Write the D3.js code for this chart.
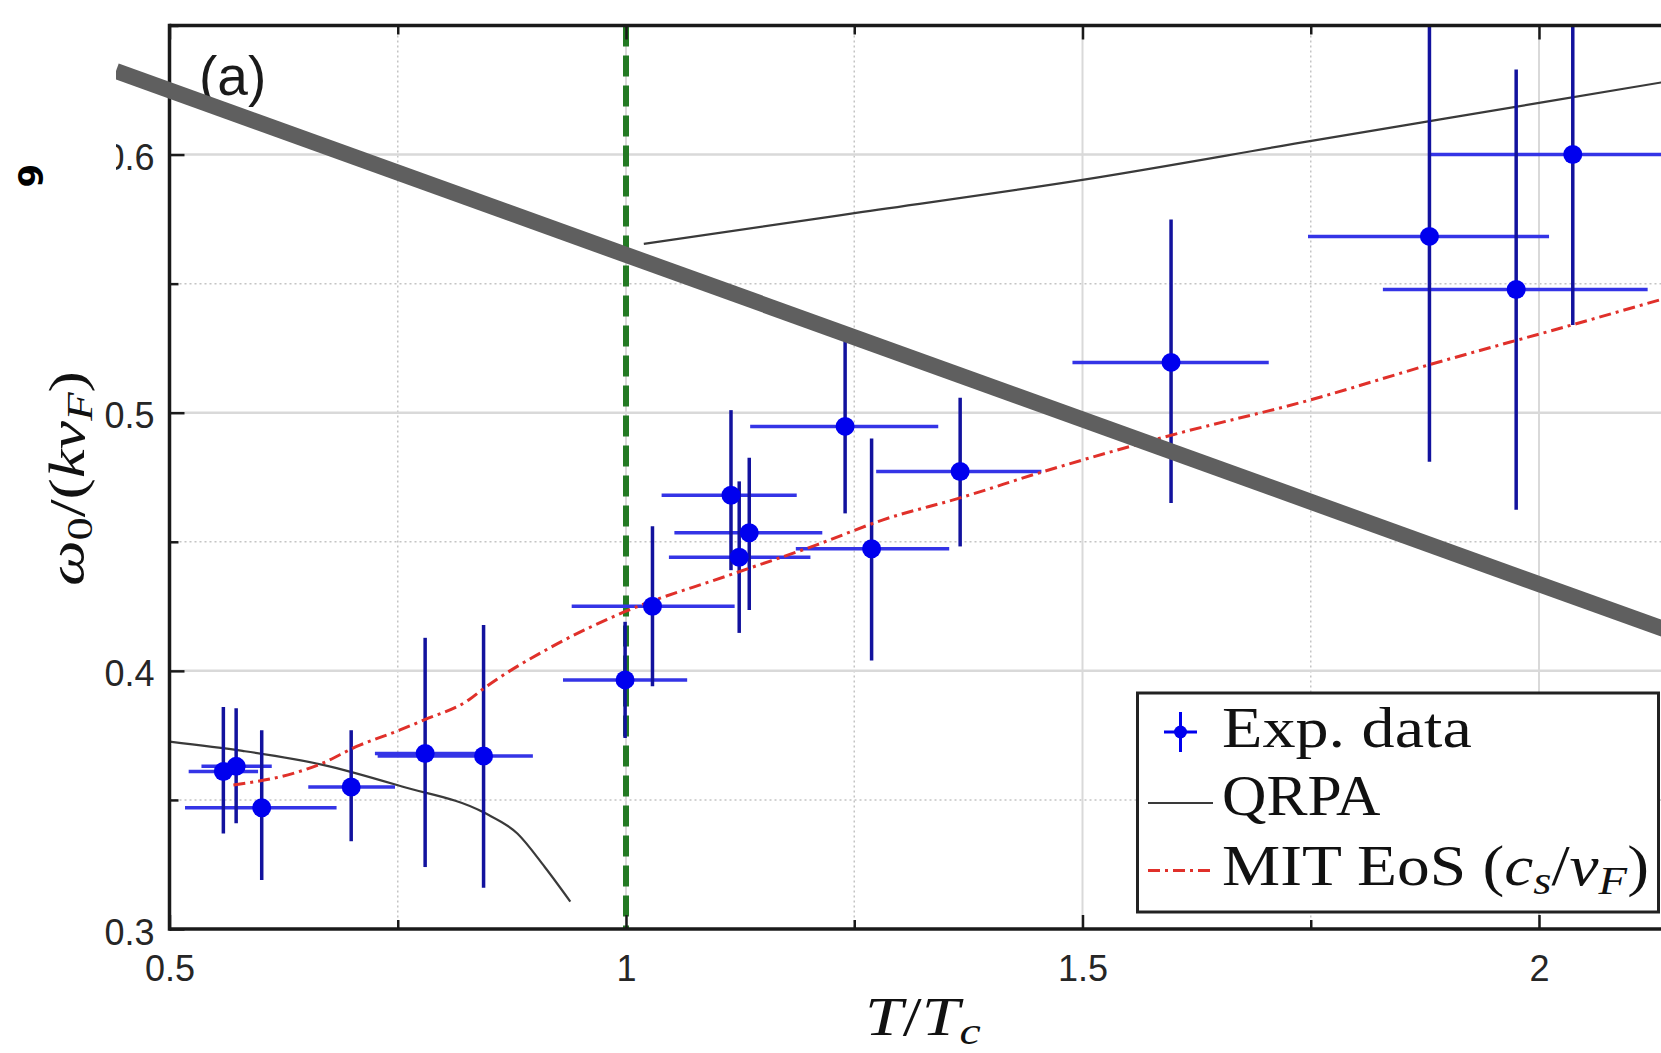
<!DOCTYPE html>
<html><head><meta charset="utf-8">
<script src="https://cdn.jsdelivr.net/npm/d3@7"></script>
<style>body{margin:0;background:#fff;} svg{display:block;}</style>
</head><body>
<svg id="chart" width="1661" height="1053"></svg>
<script>
// ---------- data ----------
const expX  = [0.559, 0.573, 0.601, 0.699, 0.780, 0.844, 0.999, 1.029, 1.115, 1.135, 1.124, 1.240, 1.269, 1.366, 1.597, 1.880, 1.975, 2.037];
const expY  = [0.361, 0.363, 0.347, 0.355, 0.368, 0.367, 0.3965, 0.425, 0.468, 0.4535, 0.444, 0.4947, 0.4473, 0.4772, 0.5195, 0.5683, 0.5477, 0.600];
const expXLo = [0.521, 0.535, 0.517, 0.652, 0.725, 0.728, 0.931, 0.9405, 1.039, 1.053, 1.047, 1.136, 1.186, 1.274, 1.489, 1.747, 1.829, 1.879];
const expXHi = [0.597, 0.612, 0.683, 0.747, 0.845, 0.898, 1.067, 1.119, 1.187, 1.215, 1.202, 1.342, 1.354, 1.455, 1.704, 2.011, 2.119, 2.25];
const expYLo = [0.337, 0.341, 0.319, 0.334, 0.324, 0.316, 0.374, 0.394, 0.439, 0.4236, 0.4147, 0.461, 0.404, 0.4482, 0.465, 0.481, 0.4624, 0.534];
const expYHi = [0.386, 0.3855, 0.377, 0.377, 0.4128, 0.4178, 0.419, 0.456, 0.501, 0.4826, 0.4734, 0.528, 0.490, 0.5058, 0.5748, 0.70, 0.633, 0.70];

const qrpaLowX = [0.5, 0.58, 0.668, 0.7546, 0.845, 0.881, 0.911, 0.939];
const qrpaLowY = [0.3726, 0.369, 0.3636, 0.3552, 0.345, 0.337, 0.324, 0.3106];
const qrpaHighX = [1.0195, 1.252, 1.5017, 1.754, 2.005, 2.14];
const qrpaHighY = [0.5654, 0.5774, 0.5903, 0.6055, 0.6203, 0.6283];

const mitX = [0.570, 0.6356, 0.666, 0.705, 0.7525, 0.779, 0.828, 0.842, 0.917, 0.9993, 1.109, 1.2088, 1.2815, 1.366, 1.4545, 1.592, 1.75, 1.880, 2.036, 2.14];
const mitY = [0.3558, 0.3603, 0.364, 0.3707, 0.3771, 0.381, 0.3888, 0.3926, 0.409, 0.423, 0.4366, 0.4488, 0.4585, 0.467, 0.4769, 0.4908, 0.505, 0.5186, 0.534, 0.5445];

const tcLine = [1.0];
const overlayX = [0.4414, 2.2];
const overlayY = [0.6324, 0.4081];

const xTickVals = [0.5, 1, 1.5, 2];
const xTickLabels = ["0.5", "1", "1.5", "2"];
const xMinorVals = [0.75, 1.25, 1.75];
const yTickVals = [0.3, 0.4, 0.5, 0.6];
const yTickLabels = ["0.3", "0.4", "0.5", "0.6"];
const yMinorVals = [0.35, 0.45, 0.55, 0.65];
const legendNames = ["Exp. data", "QRPA", "MIT EoS"];
const panelLabel = "(a)";

// ---------- layout ----------
const svg = d3.select("#chart");
const L = 169.5, T = 25.5, B = 929;
const x = d3.scaleLinear().domain([0.5, 2.2]).range([L, L + 1.7 * 913]);
const y = d3.scaleLinear().domain([0.3, 0.65]).range([B, T]);
const R = 1661;

svg.append("rect").attr("width", 1661).attr("height", 1053).attr("fill", "#fff");

svg.append("defs").append("clipPath").attr("id", "plotclip")
  .append("rect").attr("x", L).attr("y", T).attr("width", R - L).attr("height", B - T);

const grid = svg.append("g");
grid.selectAll(".gxm").data(xMinorVals).join("line")
  .attr("x1", d => x(d)).attr("x2", d => x(d)).attr("y1", T).attr("y2", B)
  .attr("stroke", "#c4c4c4").attr("stroke-width", 1.5).attr("stroke-dasharray", "2,3");
grid.selectAll(".gym").data(yMinorVals.filter(v => v < 0.65)).join("line")
  .attr("x1", L).attr("x2", R).attr("y1", d => y(d)).attr("y2", d => y(d))
  .attr("stroke", "#c4c4c4").attr("stroke-width", 1.5).attr("stroke-dasharray", "2,3");
grid.selectAll(".gx").data(xTickVals.slice(1)).join("line")
  .attr("x1", d => x(d)).attr("x2", d => x(d)).attr("y1", T).attr("y2", B)
  .attr("stroke", "#d9d9d9").attr("stroke-width", 2);
grid.selectAll(".gy").data(yTickVals.slice(1)).join("line")
  .attr("x1", L).attr("x2", R).attr("y1", d => y(d)).attr("y2", d => y(d))
  .attr("stroke", "#d9d9d9").attr("stroke-width", 2.5);

const plot = svg.append("g").attr("clip-path", "url(#plotclip)");

plot.selectAll(".tc").data(tcLine).join("line")
  .attr("x1", d => x(d)).attr("x2", d => x(d)).attr("y1", T).attr("y2", B)
  .attr("stroke", "#237a23").attr("stroke-width", 6).attr("stroke-dasharray", "21,9");

const lineGen = d3.line().x(d => x(d[0])).y(d => y(d[1])).curve(d3.curveMonotoneX);
plot.append("path").datum(qrpaLowX.map((v, i) => [v, qrpaLowY[i]]))
  .attr("d", lineGen).attr("fill", "none").attr("stroke", "#3a3a3a").attr("stroke-width", 2.2);
plot.append("path").datum(qrpaHighX.map((v, i) => [v, qrpaHighY[i]]))
  .attr("d", lineGen).attr("fill", "none").attr("stroke", "#3a3a3a").attr("stroke-width", 2.2);

const pts = expX.map((v, i) => ({x: v, y: expY[i], xl: expXLo[i], xh: expXHi[i], yl: expYLo[i], yh: expYHi[i]}));
plot.selectAll(".eh").data(pts).join("line")
  .attr("x1", d => x(d.xl)).attr("x2", d => x(d.xh)).attr("y1", d => y(d.y)).attr("y2", d => y(d.y))
  .attr("stroke", "#3434e6").attr("stroke-width", 3.5);
plot.selectAll(".ev").data(pts).join("line")
  .attr("x1", d => x(d.x)).attr("x2", d => x(d.x)).attr("y1", d => y(d.yl)).attr("y2", d => y(d.yh))
  .attr("stroke", "#12129e").attr("stroke-width", 3.5);

plot.append("path").datum(mitX.map((v, i) => [v, mitY[i]]))
  .attr("d", lineGen).attr("fill", "none").attr("stroke", "#e0302a").attr("stroke-width", 3)
  .attr("stroke-dasharray", "12,5,3,5");

plot.selectAll(".dot").data(pts).join("circle")
  .attr("cx", d => x(d.x)).attr("cy", d => y(d.y)).attr("r", 9.5).attr("fill", "#0000ee");

// ---------- axes ----------
const axStyle = g => {
  g.select(".domain").remove();
  g.selectAll(".tick line").attr("stroke", "#1a1a1a").attr("stroke-width", 2.5);
  g.selectAll(".tick text").attr("fill", "#262626").attr("font-family", "'Liberation Sans', Arial, sans-serif").attr("font-size", 36);
};
svg.append("g").attr("transform", `translate(0,${B})`)
  .call(d3.axisBottom(x).tickValues(xTickVals).tickFormat((d, i) => xTickLabels[i]).tickSize(-14).tickPadding(26)).call(axStyle);
svg.append("g").attr("transform", `translate(0,${B})`)
  .call(d3.axisBottom(x).tickValues(xMinorVals).tickFormat("").tickSize(-9)).call(axStyle);
svg.append("g").attr("transform", `translate(0,${T})`)
  .call(d3.axisTop(x).tickValues(xTickVals).tickFormat("").tickSize(-14)).call(axStyle);
svg.append("g").attr("transform", `translate(0,${T})`)
  .call(d3.axisTop(x).tickValues(xMinorVals).tickFormat("").tickSize(-9)).call(axStyle);
const yAx = svg.append("g").attr("transform", `translate(${L},0)`)
  .call(d3.axisLeft(y).tickValues(yTickVals).tickFormat((d, i) => yTickLabels[i]).tickSize(-15).tickPadding(15)).call(axStyle);
yAx.selectAll(".tick text").attr("dy", "0.42em");
svg.append("g").attr("transform", `translate(${L},0)`)
  .call(d3.axisLeft(y).tickValues(yMinorVals).tickFormat("").tickSize(-9)).call(axStyle);

const frame = svg.append("g").attr("stroke", "#1a1a1a").attr("stroke-width", 3.5);
frame.append("line").attr("x1", L).attr("x2", R).attr("y1", T).attr("y2", T);
frame.append("line").attr("x1", L).attr("x2", R).attr("y1", B).attr("y2", B);
frame.append("line").attr("x1", L).attr("x2", L).attr("y1", T - 1.7).attr("y2", B + 1.7);

svg.append("text").attr("x", 199).attr("y", 95).text(panelLabel)
  .attr("font-family", "'Liberation Sans', Arial, sans-serif").attr("font-size", 55).attr("fill", "#1a1a1a");

// ---------- axis titles ----------
const serif = "'Liberation Serif', 'Times New Roman', serif";
function fitWidth(sel, target) {
  const w = sel.node().getBBox().width;
  return target / w;
}
const xt = svg.append("text").attr("font-family", serif).attr("font-size", 54).attr("fill", "#111");
xt.append("tspan").attr("font-style", "italic").text("T");
xt.append("tspan").text("/");
xt.append("tspan").attr("font-style", "italic").text("T");
xt.append("tspan").attr("font-style", "italic").attr("font-size", 38).attr("dy", 9).text("c");
{
  const s = fitWidth(xt, 116);
  xt.attr("transform", `translate(865,1035) scale(${s},1)`);
}

const yt = svg.append("text").attr("font-family", serif).attr("font-size", 50).attr("fill", "#111");
yt.append("tspan").attr("font-style", "italic").text("ω");
yt.append("tspan").attr("font-size", 36).attr("dy", 8).text("0");
yt.append("tspan").attr("dy", -8).text("/(");
yt.append("tspan").attr("font-style", "italic").text("kv");
yt.append("tspan").attr("font-style", "italic").attr("font-size", 36).attr("dy", 8).text("F");
yt.append("tspan").attr("dy", -8).text(")");
{
  const s = fitWidth(yt, 215);
  yt.attr("transform", `translate(84,586) rotate(-90) scale(${s},1)`);
}

// ---------- legend ----------
const lg = svg.append("g");
lg.append("rect").attr("x", 1137.5).attr("y", 693).attr("width", 521).attr("height", 219)
  .attr("fill", "#fff").attr("stroke", "#222").attr("stroke-width", 3);
lg.append("line").attr("x1", 1164).attr("x2", 1197).attr("y1", 732).attr("y2", 732).attr("stroke", "#0000ee").attr("stroke-width", 3);
lg.append("line").attr("x1", 1180.5).attr("x2", 1180.5).attr("y1", 712).attr("y2", 752).attr("stroke", "#0000ee").attr("stroke-width", 3);
lg.append("circle").attr("cx", 1180.5).attr("cy", 732).attr("r", 6.5).attr("fill", "#0000ee");
lg.append("line").attr("x1", 1148).attr("x2", 1213).attr("y1", 803).attr("y2", 803).attr("stroke", "#3a3a3a").attr("stroke-width", 2.2);
lg.append("line").attr("x1", 1148).attr("x2", 1213).attr("y1", 870.5).attr("y2", 870.5).attr("stroke", "#e0302a").attr("stroke-width", 3).attr("stroke-dasharray", "12,5,3,5");

const legendTargets = [250, 159, 427];
const legendBase = [746.5, 815, 885];
legendNames.forEach((name, i) => {
  const t = lg.append("text").attr("font-family", serif).attr("font-size", 56).attr("fill", "#111");
  t.append("tspan").text(name);
  if (i === 2) {
    t.append("tspan").text(" (");
    t.append("tspan").attr("font-style", "italic").text("c");
    t.append("tspan").attr("font-style", "italic").attr("font-size", 40).attr("dy", 9).text("s");
    t.append("tspan").attr("dy", -9).text("/");
    t.append("tspan").attr("font-style", "italic").text("v");
    t.append("tspan").attr("font-style", "italic").attr("font-size", 40).attr("dy", 9).text("F");
    t.append("tspan").attr("dy", -9).text(")");
  }
  const s = fitWidth(t, legendTargets[i]);
  t.attr("transform", `translate(1222,${legendBase[i]}) scale(${s},1)`);
});

// ---------- overlay ----------
const ov = svg.append("g");
ov.append("path").datum(overlayX.map((v, i) => [v, overlayY[i]]))
  .attr("d", d3.line().x(d => x(d[0])).y(d => y(d[1])))
  .attr("stroke", "#5f5f5f").attr("stroke-width", 16).attr("fill", "none");
ov.append("rect").attr("x", 0).attr("y", 0).attr("width", 116).attr("height", 200).attr("fill", "#fff");
ov.append("text").attr("transform", "translate(18,164) rotate(90)").attr("font-family", "'DejaVu Sans', sans-serif")
  .attr("font-weight", "900").attr("font-size", 34).attr("fill", "#000").attr("x", 0).attr("y", 0).text("6");
</script>
</body></html>
